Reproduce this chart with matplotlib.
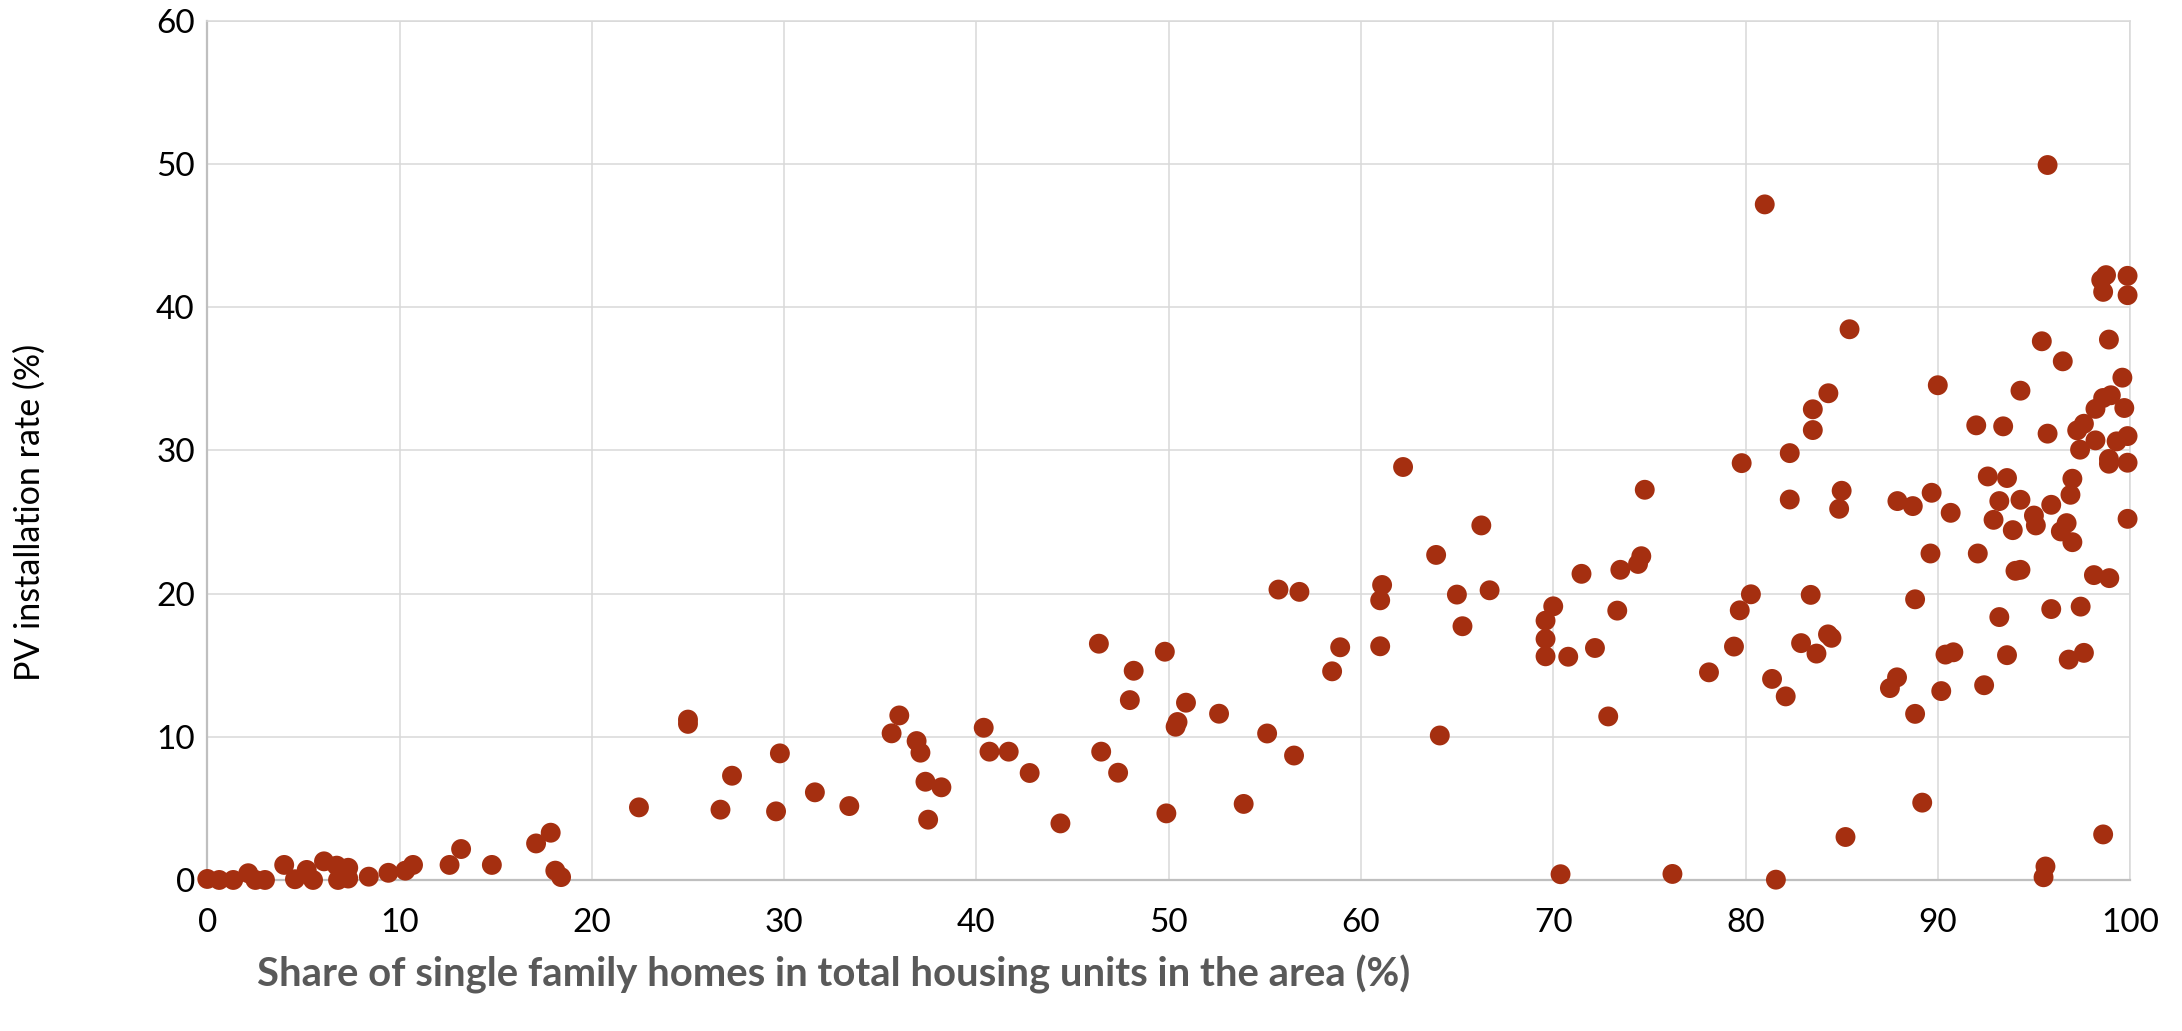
import matplotlib
matplotlib.use("Agg")
import matplotlib.pyplot as plt

# Share of single family homes (%) per area
share_sfh = [
    0.0, 0.62, 1.35, 2.13, 2.5, 3.0, 4.0, 4.56, 5.17, 5.5, 6.07, 6.73, 6.8, 7.33, 7.33,
    8.4, 9.42, 10.3, 10.7, 12.6, 13.2, 14.8, 17.1, 17.86, 18.1, 18.4,
    22.45, 25.0, 25.0, 27.29, 26.69, 29.78, 29.58, 31.6, 33.39, 35.99, 35.59, 36.89, 37.09,
    37.35, 38.18, 37.49, 40.38, 40.68, 41.68, 42.77, 44.37, 46.37, 46.49, 47.37, 48.18,
    47.98, 49.8, 49.88, 50.9, 50.46, 50.36,
    52.62, 55.12, 56.52, 53.9, 55.71, 56.8, 58.92, 58.5, 61.1, 61.0, 61.0, 63.91, 66.26,
    64.1, 64.99, 66.69, 65.28, 70.0, 69.6, 69.6, 69.6, 70.78, 72.17, 71.47, 73.49, 74.41,
    74.58, 73.33, 72.86, 70.38, 62.19, 74.76,
    76.2, 81.58, 78.1, 79.4, 79.7, 80.28, 81.38, 82.09, 82.89, 83.69, 83.39, 84.29, 84.47,
    85.2, 88.82, 87.88, 87.51, 88.82, 89.19, 90.4, 90.81, 90.18, 92.41, 93.2, 93.6, 94.04,
    94.3, 92.08, 89.62, 95.9, 97.43, 96.81, 97.6, 98.12, 98.92, 98.6, 95.6, 95.5,
    95.71, 81.0, 98.75, 98.5, 98.6, 99.87, 99.87, 85.41, 95.41, 98.9, 96.5, 99.6, 90.0,
    94.3, 84.31, 83.5, 83.5, 98.2, 98.6, 99.0, 99.7, 92.0, 93.4, 95.71, 97.25, 97.6, 98.2,
    99.3, 99.87, 97.4, 82.3, 79.8, 82.3, 85.0, 84.87, 98.9, 98.9, 99.87, 87.9, 88.7, 89.68,
    90.67, 92.6, 93.6, 93.2, 94.3, 92.9, 93.9, 95.0, 95.1, 95.9, 97.0, 96.9, 96.7, 96.4,
    97.0, 99.87,
]

# PV installation rate (%) per area
pv_rate = [
    0.07, 0.0, 0.0, 0.47, 0.0, 0.0, 1.05, 0.05, 0.7, 0.0, 1.3, 1.0, 0.0, 0.85, 0.1,
    0.23, 0.5, 0.65, 1.05, 1.05, 2.16, 1.05, 2.55, 3.3, 0.65, 0.2,
    5.07, 11.2, 10.9, 7.28, 4.91, 8.84, 4.79, 6.12, 5.16, 11.49, 10.24, 9.7, 8.89,
    6.86, 6.47, 4.21, 10.63, 8.96, 8.96, 7.47, 3.95, 16.5, 8.96, 7.49, 14.61,
    12.56, 15.94, 4.65, 12.38, 11.03, 10.7,
    11.61, 10.23, 8.69, 5.31, 20.28, 20.12, 16.25, 14.57, 20.6, 19.53, 16.32, 22.7, 24.76,
    10.09, 19.93, 20.23, 17.72, 19.11, 18.11, 16.83, 15.62, 15.59, 16.2, 21.38, 21.66, 22.07,
    22.61, 18.81, 11.42, 0.4, 28.84, 27.25,
    0.42, 0.02, 14.5, 16.3, 18.83, 19.95, 14.04, 12.82, 16.54, 15.81, 19.91, 17.15, 16.91,
    3.0, 19.6, 14.15, 13.4, 11.6, 5.4, 15.74, 15.9, 13.19, 13.6, 18.36, 15.7, 21.59,
    21.66, 22.8, 22.8, 18.92, 19.09, 15.39, 15.86, 21.29, 21.08, 3.18, 0.94, 0.19,
    49.93, 47.18, 42.24, 41.9, 41.07, 42.19, 40.84, 38.46, 37.62, 37.74, 36.22, 35.08, 34.55,
    34.17, 33.99, 32.87, 31.42, 32.9, 33.66, 33.85, 32.96, 31.75, 31.68, 31.17, 31.4, 31.86, 30.7,
    30.63, 31.0, 30.05, 29.81, 29.11, 26.57, 27.18, 25.92, 29.4, 29.07, 29.14, 26.46, 26.11, 27.04,
    25.64, 28.18, 28.07, 26.46, 26.55, 25.15, 24.43, 25.45, 24.76, 26.2, 28.02, 26.9, 24.92, 24.34,
    23.59, 25.22,
]

x_ticks = [0, 10, 20, 30, 40, 50, 60, 70, 80, 90, 100]
y_ticks = [0, 10, 20, 30, 40, 50, 60]
x_title = "Share of single family homes in total housing units in the area (%)"
y_title = "PV installation rate (%)"

DOT = "#A52F10"
GRID = "#D9D9D9"
AXIS = "#BFBFBF"

plt.rcParams["font.family"] = ["Lato", "DejaVu Sans"]

fig = plt.figure(figsize=(21.82, 10.31), dpi=100)
ax = fig.add_axes([0.0950, 0.1465, 0.8812, 0.8333])

ax.scatter(share_sfh, pv_rate, s=205, color=DOT, edgecolors="none",
           zorder=3, clip_on=False)

ax.set_xlim(0, 100)
ax.set_ylim(0, 60)
ax.set_xticks(x_ticks)
ax.set_yticks(y_ticks)
ax.tick_params(axis="both", length=0, labelsize=24, colors="black")
ax.tick_params(axis="x", pad=20)
ax.tick_params(axis="y", pad=9)

ax.grid(True, color=GRID, linewidth=1.1, zorder=0)
ax.set_axisbelow(True)
for side in ("top", "right"):
    ax.spines[side].set_color(GRID)
    ax.spines[side].set_linewidth(1.1)
for side in ("left", "bottom"):
    ax.spines[side].set_color(AXIS)
    ax.spines[side].set_linewidth(1.6)

fig.text(257 / 2182, 1 - 986 / 1031, x_title, ha="left", va="baseline",
         fontsize=28.8, fontweight="bold", color="#595959")
fig.text(30 / 2182, 1 - 512 / 1031, y_title, ha="center", va="center",
         rotation=90, fontsize=24.5, color="black")

fig.savefig("out.png", dpi=100, facecolor="white")
